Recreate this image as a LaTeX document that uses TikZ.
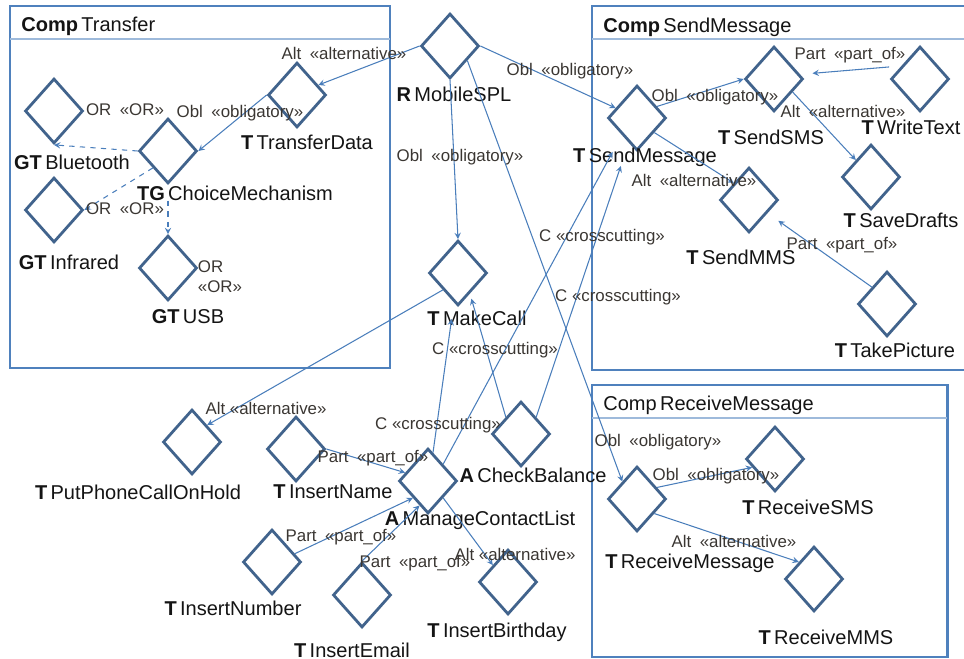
\documentclass[tikz,border=0pt]{standalone}
\usepackage{fontspec}
\setmainfont{Liberation Sans}
\usetikzlibrary{shapes.geometric}

\begin{document}
\begin{tikzpicture}[x=0.02cm, y=-0.02cm,
  task/.style={diamond, draw=taskblue, line width=1.6pt, minimum width=1.16cm, minimum height=1.3cm, inner sep=0pt},
  lbl/.style={text=inkdark, inner sep=0pt, font=\fontsize{11.4}{13}\selectfont},
  rel/.style={text=inkrel, inner sep=0pt, font=\fontsize{9.6}{11.4}\selectfont},
  link/.style={draw=linkblue, line width=0.6pt, ->, >=stealth},
  orlink/.style={link, dashed},
  frame/.style={draw=frameblue, line width=1.7pt},
  divider/.style={draw=frameblue!55, line width=0.6pt}]
% --- COMPONENTES, FEATURES E RELACOES ---
\definecolor{frameblue}{HTML}{4F81BD}
\definecolor{taskblue}{HTML}{41638C}
\definecolor{linkblue}{HTML}{4A7EBB}
\definecolor{inkdark}{HTML}{141414}
\definecolor{inkrel}{HTML}{3A3632}

\useasboundingbox (0,0) rectangle (964,659);

% LAYER 1: Componentes (molduras)
\draw[frame] (10,6) rectangle (390,368);
\draw[divider] (10,39) -- (390,39);
\node[lbl, anchor=west] (ct-title) at (21,26) {\textbf{Comp}\,Transfer};

\draw[frame] (592,6) rectangle (970,370);
\draw[divider] (592,39) -- (964,39);
\node[lbl, anchor=west] (cs-title) at (603,27) {\textbf{Comp}\,SendMessage};

\draw[frame] (592,385) rectangle (947,657);
\draw[divider] (592,418) -- (947,418);
\node[lbl, anchor=west] (cr-title) at (603,405) {Comp\,ReceiveMessage};

% LAYER 2: Features (losangos)
\node[task] (spl) at (450,46) {};
\node[task] (tx) at (297,95) {};
\node[task] (bt) at (54,111) {};
\node[task] (cm) at (168,151) {};
\node[task] (ir) at (54,210) {};
\node[task] (usb) at (168,268) {};
\node[task] (mc) at (458,273) {};
\node[task] (sm) at (637,118) {};
\node[task] (sms) at (774,79) {};
\node[task] (wt) at (920,79) {};
\node[task] (sd) at (871,177) {};
\node[task] (mms) at (749,200) {};
\node[task] (tp) at (887,304) {};
\node[task] (hold) at (192,442) {};
\node[task] (name) at (296,449) {};
\node[task] (mcl) at (428,481) {};
\node[task] (cb) at (521,434) {};
\node[task] (num) at (272,562) {};
\node[task] (mail) at (362,595) {};
\node[task] (bday) at (508,582) {};
\node[task] (rm) at (637,499) {};
\node[task] (rsms) at (775,459) {};
\node[task] (rmms) at (814,579) {};

% LAYER 3: Nomes das features
\node[lbl] (spl-t) at (454,94) {\textbf{R}\,MobileSPL};
\node[lbl] (tx-t) at (307,142) {\textbf{T}\,TransferData};
\node[lbl] (bt-t) at (72,162) {\textbf{GT}\,Bluetooth};
\node[lbl] (cm-t) at (235,193) {\textbf{TG}\,ChoiceMechanism};
\node[lbl] (ir-t) at (69,262) {\textbf{GT}\,Infrared};
\node[lbl] (usb-t) at (188,317) {\textbf{GT}\,USB};
\node[lbl] (mc-t) at (477,318) {\textbf{T}\,MakeCall};
\node[lbl] (sm-t) at (645,157) {\textbf{T}\,SendMessage};
\node[lbl] (sms-t) at (771,137) {\textbf{T}\,SendSMS};
\node[lbl] (wt-t) at (911,127) {\textbf{T}\,WriteText};
\node[lbl] (sd-t) at (901,220) {\textbf{T}\,SaveDrafts};
\node[lbl] (mms-t) at (741,257) {\textbf{T}\,SendMMS};
\node[lbl] (tp-t) at (895,350) {\textbf{T}\,TakePicture};
\node[lbl] (hold-t) at (138,492) {\textbf{T}\,PutPhoneCallOnHold};
\node[lbl] (name-t) at (333,492) {\textbf{T}\,InsertName};
\node[lbl] (mcl-t) at (480,520) {\textbf{A}\,ManageContactList};
\node[lbl] (cb-t) at (533,475) {\textbf{A}\,CheckBalance};
\node[lbl] (num-t) at (233,608) {\textbf{T}\,InsertNumber};
\node[lbl] (mail-t) at (352,650) {\textbf{T}\,InsertEmail};
\node[lbl] (bday-t) at (497,632) {\textbf{T}\,InsertBirthday};
\node[lbl] (rm-t) at (690,563) {\textbf{T}\,ReceiveMessage};
\node[lbl] (rsms-t) at (808,507) {\textbf{T}\,ReceiveSMS};
\node[lbl] (rmms-t) at (826,637) {\textbf{T}\,ReceiveMMS};

% LAYER 4: Relacoes
\draw[link] (spl.west) -- (tx.25);
\draw[link] (tx.west) -- (cm.east);
\draw[orlink] (cm.west) -- (bt.south);
\draw[orlink] (cm.south west) -- (ir.east);
\draw[orlink] (cm-t.south -| usb.north) -- (usb.north);
\draw[link] (spl.east) -- (sm.155);
\draw[link] (spl.south) -- (mc.north);
\draw[link] (spl.-40) -- (rm.130);
\draw[link] (sm.30) -- (sms.west);
\draw[link, shorten <=7pt, shorten >=7pt] (wt.145) -- (sms.10);
\draw[link] (sms.-35) -- (sd.north west);
\draw[link] (sm.-40) -- (mms.north west);
\draw[link, shorten >=7.5pt] (tp.north west) -- (mms);
\draw[link] (mc.south west) -- (hold.north east);
\draw[link] (name.east) -- (mcl.160);
\draw[link] (num.20) -- (mcl.south west);
\draw[link] (mail.north) -- (mcl.-109);
\draw[link] (mcl.south east) -- (bday.north west);
\draw[link, shorten >=9.5pt] (mcl.80) -- (mc);
\draw[link, shorten >=3pt] (cb.north west) -- (mc.-60);
\draw[link, shorten >=11pt] (mcl.north east) -- (sm.south west);
\draw[link, shorten >=14pt] (cb.north east) -- (sm);
\draw[link] (rm.30) -- (rsms.-160);
\draw[link] (rm.-40) -- (rmms.north west);

% LAYER 5: Rotulos das relacoes
\node[rel] (r-spl-tx) at (344,53) {Alt\enspace«alternative»};
\node[rel] (r-tx-cm) at (240,113) {Obl\enspace«obligatory»};
\node[rel] (r-cm-bt) at (125,110) {OR\enspace«OR»};
\node[rel] (r-cm-ir) at (125,209) {OR\enspace«OR»};
\node[rel, align=left] (r-cm-usb) at (220,277) {OR\\«OR»};
\node[rel] (r-spl-sm) at (570,71) {Obl\enspace«obligatory»};
\node[rel] (r-spl-mc) at (460,157) {Obl\enspace«obligatory»};
\node[rel] (r-spl-rm) at (658,442) {Obl\enspace«obligatory»};
\node[rel] (r-sm-sms) at (715,97) {Obl\enspace«obligatory»};
\node[rel] (r-wt-sms) at (850,55) {Part\enspace«part\_of»};
\node[rel] (r-sms-sd) at (843,111) {Alt\enspace«alternative»};
\node[rel] (r-sm-mms) at (694,180) {Alt\enspace«alternative»};
\node[rel] (r-tp-mms) at (842,245) {Part\enspace«part\_of»};
\node[rel] (r-mcl-sm) at (602,237) {C «crosscutting»};
\node[rel] (r-cb-sm) at (618,297) {C «crosscutting»};
\node[rel] (r-cb-mc) at (495,350) {C «crosscutting»};
\node[rel] (r-mcl-mc) at (438,425) {C «crosscutting»};
\node[rel] (r-mc-hold) at (266,408) {Alt «alternative»};
\node[rel] (r-name-mcl) at (373,458) {Part\enspace«part\_of»};
\node[rel] (r-num-mcl) at (341,537) {Part\enspace«part\_of»};
\node[rel] (r-mail-mcl) at (415,563) {Part\enspace«part\_of»};
\node[rel] (r-mcl-bday) at (515,554) {Alt «alternative»};
\node[rel] (r-rm-rsms) at (716,476) {Obl\enspace«obligatory»};
\node[rel] (r-rm-rmms) at (734,541) {Alt\enspace«alternative»};
\end{tikzpicture}
\end{document}
